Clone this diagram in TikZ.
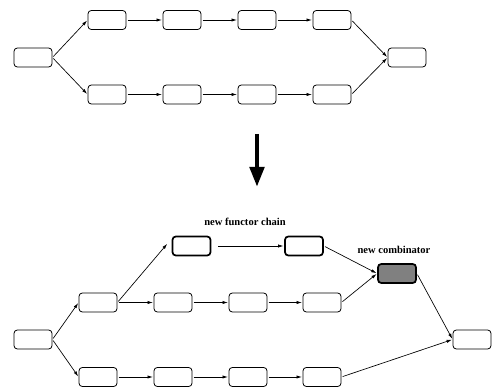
\documentclass[tikz,border=0pt]{standalone}
\usepackage{fontspec}
\setmainfont{Liberation Serif}
\usetikzlibrary{arrows.meta}
\tikzset{
  box/.style={draw, line width=0.6pt, rounded corners=2.5pt, minimum width=28.5pt, minimum height=14.25pt, inner sep=0pt},
  newbox/.style={box, line width=1.3pt},
  combbox/.style={newbox, fill=black!50},
  conn/.style={-{Latex[length=4pt,width=2.4pt]}, line width=0.5pt, shorten >=0.5pt, shorten <=1pt},
  lbl/.style={font=\bfseries\fontsize{7.9}{9}\selectfont, inner sep=0pt}
}
\begin{document}
\begin{tikzpicture}[x=0.75pt,y=-0.75pt]
\useasboundingbox (0,0) rectangle (494,388);
% top diagram
\node[box] (L) at (33,57.5) {};
\node[box] (a1) at (107,20) {};
\node[box] (a2) at (182,20) {};
\node[box] (a3) at (257,20) {};
\node[box] (a4) at (332,20) {};
\node[box] (b1) at (107,94.5) {};
\node[box] (b2) at (182,94.5) {};
\node[box] (b3) at (257,94.5) {};
\node[box] (b4) at (332,94.5) {};
\node[box] (R) at (407,57.5) {};
\draw[conn] (L.east) -- (a1.west);
\draw[conn] (L.east) -- (b1.west);
\draw[conn] (a1) -- (a2);
\draw[conn] (a2) -- (a3);
\draw[conn] (a3) -- (a4);
\draw[conn] (b1) -- (b2);
\draw[conn] (b2) -- (b3);
\draw[conn] (b3) -- (b4);
\draw[conn] (a4.east) -- (R.west);
\draw[conn] (b4.east) -- (R.west);
% big arrow
\coordinate (t0) at (257,134);
\coordinate (t1) at (257,187);
\draw[line width=3.5pt, -{Triangle[length=15pt,width=10.5pt]}] (t0) -- (t1);
% bottom diagram
\node[box] (L2) at (33,339.5) {};
\node[box] (m1) at (98,302.5) {};
\node[box] (m2) at (173,302.5) {};
\node[box] (m3) at (248,302.5) {};
\node[box] (m4) at (322,302.5) {};
\node[box] (n1) at (98,377) {};
\node[box] (n2) at (173,377) {};
\node[box] (n3) at (248,377) {};
\node[box] (n4) at (322,377) {};
\node[newbox] (f1) at (191.5,246) {};
\node[newbox] (f2) at (304,246) {};
\node[combbox] (C) at (397,273.5) {};
\node[box] (R2) at (472,339.5) {};
\node[lbl] (lf) at (245,222) {new functor chain};
\node[lbl] (lc) at (394,250) {new combinator};
\draw[conn] (L2.east) -- (m1.west);
\draw[conn] (L2.east) -- (n1.west);
\draw[conn] (m1) -- (m2);
\draw[conn] (m2) -- (m3);
\draw[conn] (m3) -- (m4);
\draw[conn] (n1) -- (n2);
\draw[conn] (n2) -- (n3);
\draw[conn] (n3) -- (n4);
\draw[conn] (m1.east) -- ([xshift=-3pt,yshift=2pt]f1.west);
\draw[conn, shorten <=5pt] (f1) -- (f2);
\draw[conn] (f2.east) -- (C.west);
\draw[conn] (m4.east) -- (C.west);
\draw[conn] (C.east) -- (R2.west);
\draw[conn] (n4.east) -- (R2.west);
\end{tikzpicture}
\end{document}
